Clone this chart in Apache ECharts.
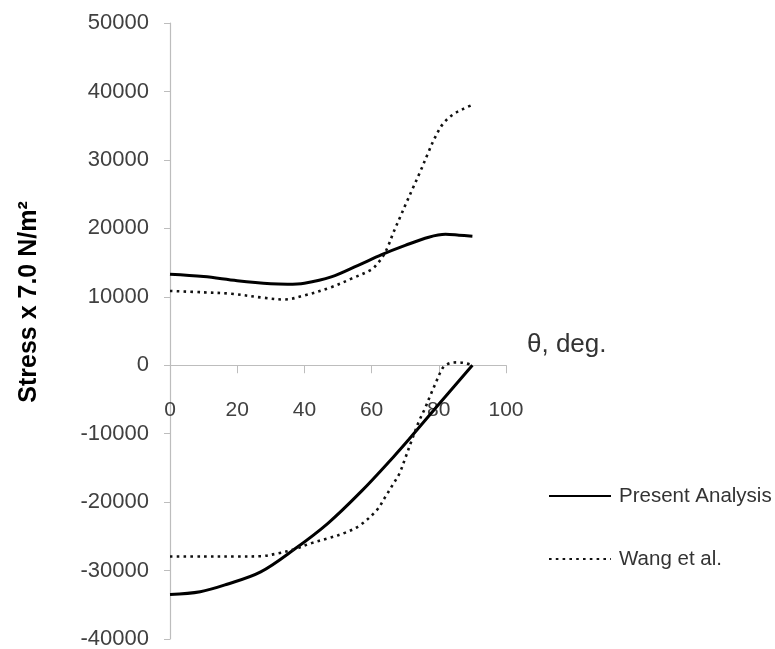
<!DOCTYPE html>
<html>
<head>
<meta charset="utf-8">
<script src="https://cdn.jsdelivr.net/npm/echarts@6/dist/echarts.min.js"></script>
<style>
html,body{margin:0;padding:0;background:#fff;}
#chart{width:775px;height:649px;}
</style>
</head>
<body>
<div id="chart"></div>
<script>
// ---- data ----
const seriesNames = ['Present Analysis', 'Wang et al.'];
const yAxisTitle = 'Stress x 7.0 N/m\u00b2';
const xAxisTitle = '\u03b8, deg.';
const xTicks = [0, 20, 40, 60, 80, 100];
const yTicks = [-40000, -30000, -20000, -10000, 0, 10000, 20000, 30000, 40000, 50000];

// Present Analysis, upper branch
const presentUpperTheta = [0, 10, 20, 30, 35, 40, 48, 56, 63, 70, 77, 82, 86, 90];
const presentUpperStress = [13300, 12950, 12350, 11900, 11830, 11980, 12900, 14600, 16150, 17500, 18700, 19120, 19000, 18850];

// Wang et al., upper branch
const wangUpperTheta = [0, 10, 18, 28, 34, 40, 48, 54, 60, 62, 63.5, 65, 66.5, 68.5, 70.4, 72.4, 74.4, 76.9, 78.9, 81.3, 84.3, 87.3, 90];
const wangUpperStress = [10850, 10650, 10450, 9850, 9600, 10200, 11400, 12650, 14000, 15000, 16000, 17500, 19400, 21650, 23800, 26000, 28200, 31100, 33300, 35300, 36650, 37450, 38050];

// Present Analysis, lower branch
const presentLowerTheta = [0, 9, 17, 27, 37, 47, 57, 66.5, 71, 80, 90];
const presentLowerStress = [-33500, -33100, -32000, -30200, -26900, -23100, -18400, -13400, -10900, -5700, 0];

// Wang et al., lower branch
const wangLowerTheta = [0, 10, 20, 27, 32, 37, 42, 47, 52, 56.5, 61.5, 64, 66.5, 68.3, 70, 72, 74, 75.9, 77.4, 78.9, 80.4, 81.5, 83.3, 85.3, 87.8, 90];
const wangLowerStress = [-27950, -27950, -27950, -27900, -27500, -26900, -26000, -25300, -24500, -23400, -21200, -19300, -17300, -15800, -13600, -10900, -8300, -6300, -4500, -2800, -1100, -200, 300, 420, 300, 0];

function pairs(xs, ys) { return xs.map((x, i) => [x, ys[i]]); }

const FONT = "'Liberation Sans', Arial, sans-serif";
const solidStyle = { color: '#000', width: 3, type: 'solid' };
const dotStyle = { color: '#111', width: 2.6, type: [2.6, 4.2], cap: 'butt' };

const W = 775, H = 649;
const gridTop = 23, gridBottom = 10;
const yMin = yTicks[0], yMax = yTicks[yTicks.length - 1];
// x axis sits at stress = 0; offset it up from the grid bottom
const plotH = H - gridTop - gridBottom;
const zeroFromBottom = plotH * (0 - yMin) / (yMax - yMin);

const chart = echarts.init(document.getElementById('chart'), null, { renderer: 'canvas' });
chart.setOption({
  animation: false,
  backgroundColor: '#fff',
  grid: { left: 170, right: 269, top: gridTop, bottom: gridBottom, containLabel: false, outerBoundsMode: 'none' },
  legend: {
    orient: 'vertical',
    left: 543,
    top: 479,
    itemWidth: 62,
    itemHeight: 14,
    itemGap: 39,
    data: seriesNames,
    itemStyle: { opacity: 0 },
    textStyle: { fontFamily: FONT, fontSize: 20.5, color: '#333', lineHeight: 24, padding: [0, 0, 0, 3] }
  },
  xAxis: {
    type: 'value',
    min: xTicks[0],
    max: xTicks[xTicks.length - 1],
    interval: 20,
    position: 'bottom',
    offset: -zeroFromBottom,
    axisLine: { onZero: false, lineStyle: { color: '#bdbdbd', width: 1.2 } },
    axisTick: { show: true, length: 8, lineStyle: { color: '#bdbdbd' } },
    axisLabel: { margin: 34, fontFamily: FONT, fontSize: 21, color: '#404040' },
    splitLine: { show: false }
  },
  yAxis: {
    type: 'value',
    min: yMin,
    max: yMax,
    interval: 10000,
    axisLine: { show: true, lineStyle: { color: '#bdbdbd', width: 1.2 } },
    axisTick: { show: true, length: 6, lineStyle: { color: '#bdbdbd' } },
    axisLabel: { margin: 21, fontFamily: FONT, fontSize: 22, color: '#404040', formatter: v => String(v) },
    splitLine: { show: false }
  },
  graphic: [
    {
      type: 'text', x: 29, y: 302, rotation: Math.PI / 2,
      style: { text: yAxisTitle, font: 'bold 25px ' + FONT, fill: '#000', align: 'center', verticalAlign: 'middle' }
    },
    {
      type: 'text', x: 527, y: 345,
      style: { text: xAxisTitle, font: '26px ' + FONT, fill: '#333', align: 'left', verticalAlign: 'middle' }
    }
  ],
  series: [
    { name: seriesNames[0], type: 'line', data: pairs(presentUpperTheta, presentUpperStress), showSymbol: false, symbol: 'none', smooth: 0.35, lineStyle: solidStyle, itemStyle: { color: '#000' } },
    { name: seriesNames[1], type: 'line', data: pairs(wangUpperTheta, wangUpperStress), showSymbol: false, symbol: 'none', smooth: 0.35, lineStyle: dotStyle, itemStyle: { color: '#111' } },
    { name: seriesNames[0], type: 'line', data: pairs(presentLowerTheta, presentLowerStress), showSymbol: false, symbol: 'none', smooth: 0.35, lineStyle: solidStyle, itemStyle: { color: '#000' } },
    { name: seriesNames[1], type: 'line', data: pairs(wangLowerTheta, wangLowerStress), showSymbol: false, symbol: 'none', smooth: 0.35, lineStyle: dotStyle, itemStyle: { color: '#111' } }
  ]
});
</script>
</body>
</html>
